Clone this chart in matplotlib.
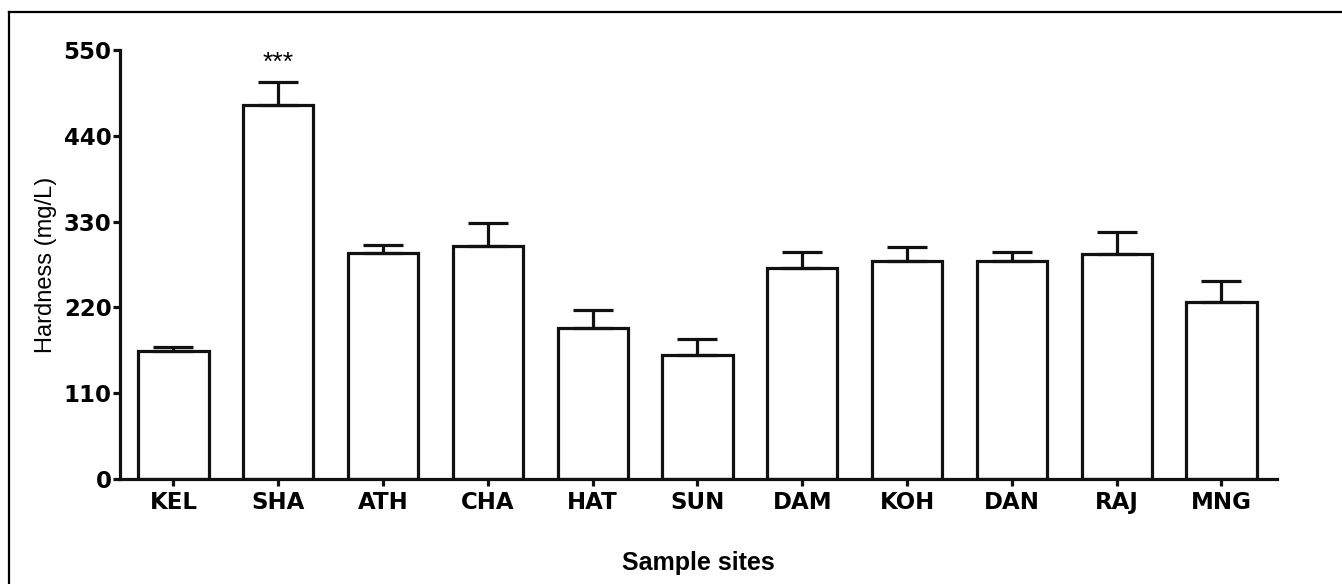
import matplotlib.pyplot as plt
from matplotlib.lines import Line2D

plt.rcParams["font.family"] = ["Liberation Sans", "DejaVu Sans"]

sites = ["KEL", "SHA", "ATH", "CHA", "HAT", "SUN", "DAM", "KOH", "DAN", "RAJ", "MNG"]
hardness = [164, 479, 290, 299, 193, 159, 270, 279, 280, 288, 227]
sem = [5, 30, 10, 29, 24, 20, 21, 18, 11, 29, 27]
yticks = [0, 110, 220, 330, 440, 550]

fig = plt.figure(figsize=(13.42, 5.84), dpi=100)
ax = fig.add_axes([0.0894, 0.1798, 0.8622, 0.7346])

x = list(range(len(sites)))
ax.bar(x, hardness, width=0.67, color="white", edgecolor="#111111", linewidth=2.3, zorder=2)
ax.errorbar(x, hardness, yerr=[[0] * len(sem), sem], fmt="none", ecolor="#111111",
            elinewidth=2.3, capsize=14.5, capthick=2.3, zorder=3)

# significance mark over SHA
ax.text(1, hardness[1] + sem[1] + 9, "***", ha="center", va="bottom", fontsize=19)

ax.set_xlim(-0.51, 10.53)
ax.set_ylim(0, 550)
ax.set_yticks(yticks)
ax.set_xticks(x)
ax.set_xticklabels(sites)
for s in ["top", "right"]:
    ax.spines[s].set_visible(False)
for s in ["left", "bottom"]:
    ax.spines[s].set_linewidth(2.3)
    ax.spines[s].set_color("#111111")
ax.tick_params(axis="both", width=2.3, length=5, color="#111111")
ax.tick_params(axis="y", pad=1)
for lab in ax.get_xticklabels() + ax.get_yticklabels():
    lab.set_fontfamily("DejaVu Sans")
    lab.set_fontweight("bold")
    lab.set_fontsize(16.5)

ax.set_ylabel("Hardness (mg/L)", fontsize=17, labelpad=5)
ax.set_xlabel("Sample sites", fontsize=18, fontweight="bold", labelpad=27)

# frame lines on the left and top edges of the picture
fig.add_artist(Line2D([9 / 1342, 9 / 1342], [0, 1 - 12 / 584], transform=fig.transFigure,
                      color="black", linewidth=1.6))
fig.add_artist(Line2D([9 / 1342, 1], [1 - 12 / 584, 1 - 12 / 584], transform=fig.transFigure,
                      color="black", linewidth=1.6))

fig.savefig("out.png", dpi=100)
